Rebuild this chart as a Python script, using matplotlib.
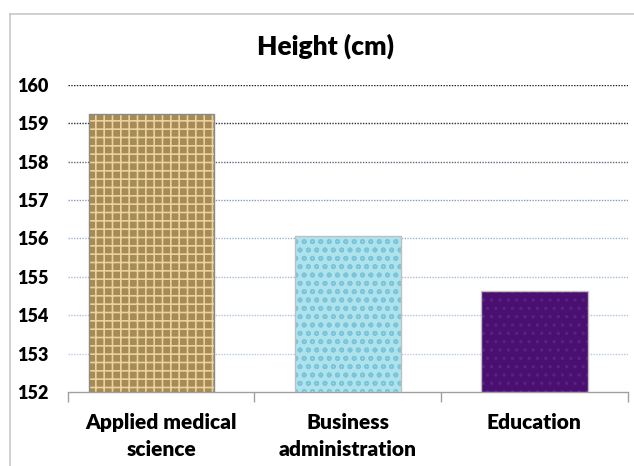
import matplotlib.pyplot as plt
from matplotlib.lines import Line2D

categories = ["Applied medical\nscience", "Business\nadministration", "Education"]
heights = [159.25, 156.07, 154.62]
y_ticks = [152, 153, 154, 155, 156, 157, 158, 159, 160]

plt.rcParams['font.family'] = ['Lato', 'DejaVu Sans']
plt.rcParams['hatch.linewidth'] = 1.2

fig = plt.figure(figsize=(6.34, 4.66), dpi=100)
ax = fig.add_axes([0.107, 0.159, 0.883, 0.659])

x = list(range(len(categories)))
faces = ['#a88a55', '#aee3ee', '#4a1070']
hatch_cols = ['#e6d3a0', '#7cc4da', '#5e1d8a']
hatches = ['++', 'oo', '..']
widths = [0.67, 0.57, 0.57]
offsets = [-0.05, 0.0, 0.0]

for i in x:
    xi = i + offsets[i]
    ax.bar(xi, heights[i] - 152, bottom=152, width=widths[i], color=faces[i],
           hatch=hatches[i], edgecolor=hatch_cols[i], linewidth=0, zorder=3)
    ax.bar(xi, heights[i] - 152, bottom=152, width=widths[i], fill=False,
           edgecolor='#8a8a8a' if i == 0 else '#c0c0c0', linewidth=1.0, zorder=4)

# dotted gridlines fade from dark at the top to light blue at the bottom
grid_cols = ['#b8c8e0', '#b8c8e0', '#b0c2dc', '#a8bcd8', '#a0b4d2', '#8898b8',
             '#606878', '#303030', '#202020']
for yv, c in zip(y_ticks, grid_cols):
    if yv == 152:
        continue
    ax.axhline(yv, color=c, linestyle=(0, (1, 1)), linewidth=1.0, zorder=1)

ax.set_ylim(152, 160)
ax.set_xlim(-0.5, 2.5)
ax.set_yticks(y_ticks)
ax.set_yticklabels([str(v) for v in y_ticks], fontsize=13, fontweight='heavy')
ax.tick_params(axis='y', length=0, pad=14)

ax.set_xticks(x)
ax.set_xticklabels(categories, fontsize=15, fontweight='heavy', linespacing=1.5)
ax.set_xticks([-0.5, 0.5, 1.5, 2.5], minor=True)
ax.tick_params(axis='x', which='major', length=0, pad=15)
ax.tick_params(axis='x', which='minor', length=7, color='#a0a0a0', width=1)

for s in ['left', 'right', 'top']:
    ax.spines[s].set_visible(False)
ax.spines['bottom'].set_color('#a0a0a0')
ax.spines['bottom'].set_linewidth(1)

fig.text(0.513, 0.9, "Height (cm)", ha='center', va='center',
         fontsize=19, fontweight='heavy')

# chart frame edges
fig.add_artist(Line2D([10 / 634, 1], [1 - 14 / 466, 1 - 14 / 466],
                      color='#c8c8c8', linewidth=1.2))
fig.add_artist(Line2D([10 / 634, 10 / 634], [0, 1 - 14 / 466],
                      color='#c8c8c8', linewidth=1.2))

fig.savefig("out.png", dpi=100)
